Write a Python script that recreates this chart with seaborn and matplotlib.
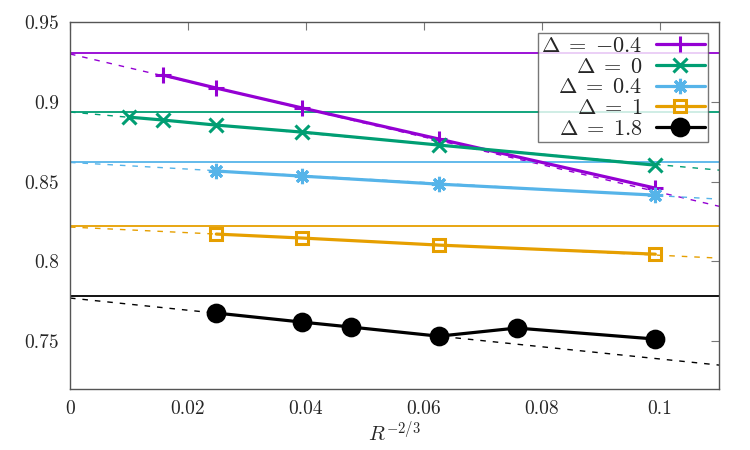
import numpy as np
import pandas as pd
import seaborn as sns
import matplotlib
matplotlib.use('Agg')
import matplotlib.pyplot as plt

# data
labels = ['$\\Delta\\;=\\;{-}0.4$', '$\\Delta\\;=\\;0$', '$\\Delta\\;=\\;0.4$',
          '$\\Delta\\;=\\;1$', '$\\Delta\\;=\\;1.8$']
colors = ['#9400d3', '#009e73', '#56b4e9', '#e69f00', '#000000']

x_m04 = [0.0157, 0.0248, 0.0394, 0.0625, 0.0992]
y_m04 = [0.9168, 0.9086, 0.8961, 0.8767, 0.8459]
x_0 = [0.0100, 0.0157, 0.0248, 0.0394, 0.0625, 0.0992]
y_0 = [0.8904, 0.8886, 0.8854, 0.8810, 0.8729, 0.8603]
x_04 = [0.0248, 0.0394, 0.0625, 0.0992]
y_04 = [0.8566, 0.8534, 0.8484, 0.8415]
x_1 = [0.0248, 0.0394, 0.0625, 0.0992]
y_1 = [0.8171, 0.8146, 0.8102, 0.8045]
x_18 = [0.0248, 0.0394, 0.0477, 0.0625, 0.0757, 0.0992]
y_18 = [0.7676, 0.7619, 0.7588, 0.7531, 0.7582, 0.7513]

# limit values (horizontal lines) and linear extrapolations (dashed)
limits = [0.9306, 0.8936, 0.8622, 0.8221, 0.7782]
fit_a = [0.9300, 0.8936, 0.8620, 0.8215, 0.7770]
fit_b = [-0.868, -0.331, -0.209, -0.177, -0.382]

xs = [x_m04, x_0, x_04, x_1, x_18]
ys = [y_m04, y_0, y_04, y_1, y_18]

sns.set_style('white')
plt.rcParams['mathtext.fontset'] = 'cm'
plt.rcParams['font.family'] = ['cmr10', 'DejaVu Serif']
plt.rcParams['axes.formatter.use_mathtext'] = True

fig = plt.figure(figsize=(7.5, 4.5), dpi=100)
ax = fig.add_axes([0.0933, 0.1356, 0.8654, 0.8154])

# markers
marks = ['+', 'x', (8, 2, 0), 's', 'o']
msizes = [11, 10, 11, 9, 12]

xline = np.array([0.0, 0.11])
for i in range(5):
    ax.axhline(limits[i], color=colors[i], lw=1.3, zorder=1)
    ax.plot(xline, fit_a[i] + fit_b[i] * xline, color=colors[i], lw=1.0,
            ls=(0, (4, 5)), zorder=1)

for i in range(5):
    df = pd.DataFrame({'x': xs[i], 'y': ys[i]})
    fc = 'none' if marks[i] == 's' else colors[i]
    sns.lineplot(data=df, x='x', y='y', ax=ax, color=colors[i], lw=2.3,
                 marker=marks[i], markersize=msizes[i], markeredgewidth=2.2,
                 markerfacecolor=fc, markeredgecolor=colors[i],
                 label=labels[i], zorder=3)

ax.set_xlim(0, 0.11)
ax.set_ylim(0.72, 0.95)
ax.set_xticks([0, 0.02, 0.04, 0.06, 0.08, 0.1])
ax.set_xticklabels(['0', '0.02', '0.04', '0.06', '0.08', '0.1'])
ax.set_yticks([0.75, 0.8, 0.85, 0.9, 0.95])
ax.set_yticklabels(['0.75', '0.8', '0.85', '0.9', '0.95'])
ax.tick_params(direction='in', length=6, width=0.8, color='#777777',
               top=True, right=True, labelsize=14, pad=8)
for s in ax.spines.values():
    s.set_color('#555555')
    s.set_linewidth(1.0)
ax.set_xlabel('$R^{-2/3}$', fontsize=15, labelpad=2)
ax.set_ylabel('')

leg = ax.legend(loc='upper right', markerfirst=False, fontsize=16,
                frameon=True, fancybox=False, edgecolor='#555555',
                handlelength=2.2, borderaxespad=0.5, labelspacing=0.05,
                borderpad=0.15, handletextpad=0.6)
leg.get_frame().set_linewidth(1.0)
leg._legend_box.align = 'right'
for t in leg.get_texts():
    t.set_ha('right')

fig.savefig('out.png', dpi=100)
